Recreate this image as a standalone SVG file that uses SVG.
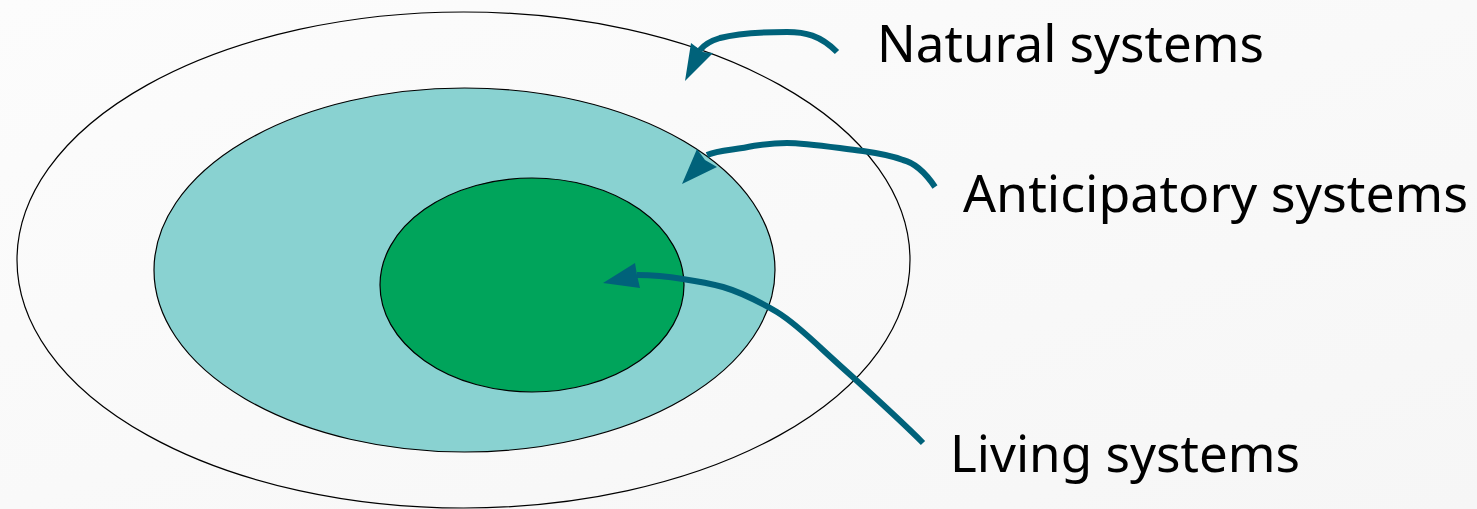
<svg xmlns="http://www.w3.org/2000/svg" width="1477" height="509" viewBox="0 0 1477 509">
<defs>
<linearGradient id="bg" x1="0" y1="0" x2="1" y2="1">
<stop offset="0" stop-color="#fcfcfc"/>
<stop offset="1" stop-color="#f6f6f6"/>
</linearGradient>
<style>
.lbl{font-family:"Noto Sans","Open Sans","Liberation Sans",sans-serif;font-size:51px;fill:#000;}
.ring{stroke:#000;stroke-width:1.2;}
.conn{fill:none;stroke:#00627a;stroke-width:6;stroke-linecap:butt;stroke-linejoin:round;}
.head{fill:#00627a;stroke:none;}
</style>
</defs>
<rect width="1477" height="509" fill="url(#bg)"/>
<g id="natural"><ellipse class="ring" cx="463.5" cy="260" rx="446.5" ry="248" fill="none"/></g>
<g id="anticipatory"><ellipse class="ring" cx="464.5" cy="270" rx="310.5" ry="182" fill="#89d2d1"/></g>
<g id="living"><ellipse class="ring" cx="532" cy="285" rx="152" ry="107" fill="#00a45b"/></g>
<g id="connectors">
<path class="conn" d="M837,52 C820,35 805,32 787,32 C760,32 735,34 720,38 C710,41 704,45 700,50"/>
<path class="head" d="M685,81 L691,43 L703,52 L713,53 Z"/>
<path class="conn" d="M935,187 C925,172 915,163 903,160 C890,155 870,152 863,151 C830,147 805,143 787,143 C770,143 760,145 753,146 C735,150 718,150 707,155"/>
<path class="head" d="M682,184 L697,149 L705,160 L717,167 Z"/>
<path class="conn" d="M923,443 C890,410 850,375 823,350 C805,333 790,320 777,312 C760,302 740,292 723,287 C705,282 690,280 683,279 C665,276 650,275 637,275"/>
<path class="head" d="M603,283 L635,263 L637,275 L640,288 Z"/>
</g>
<g id="label-natural"><text class="lbl" x="877" y="62" textLength="387" lengthAdjust="spacingAndGlyphs">Natural systems</text></g>
<g id="label-anticipatory"><text class="lbl" x="963" y="212" textLength="505" lengthAdjust="spacingAndGlyphs">Anticipatory systems</text></g>
<g id="label-living"><text class="lbl" x="950" y="472" textLength="350" lengthAdjust="spacingAndGlyphs">Living systems</text></g>
</svg>
